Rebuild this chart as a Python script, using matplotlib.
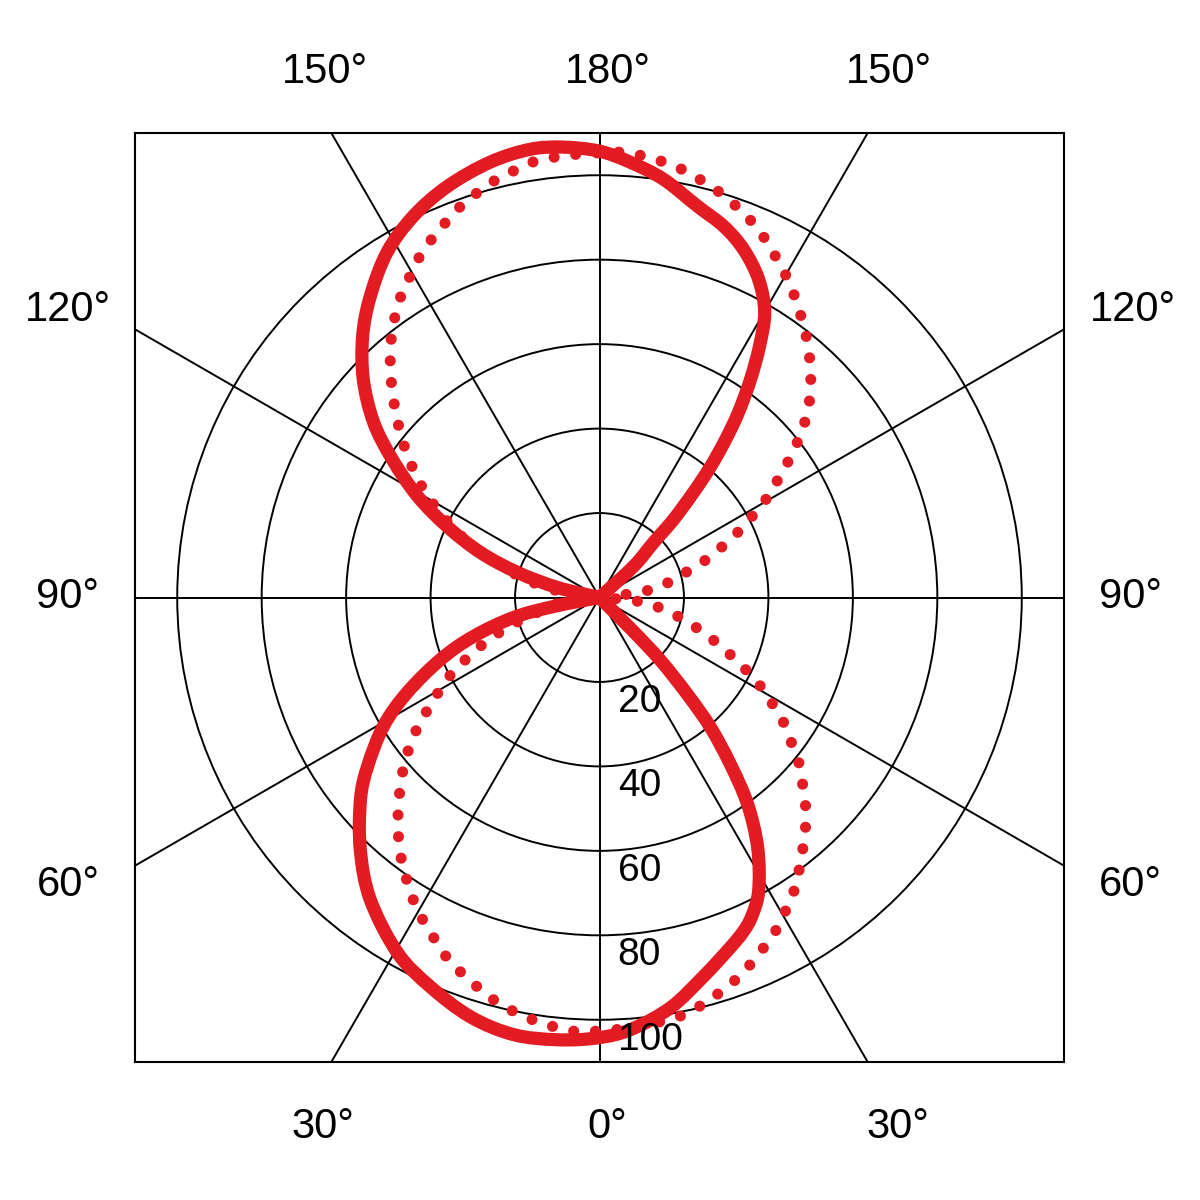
import numpy as np
import matplotlib
matplotlib.use('Agg')
import matplotlib.pyplot as plt
from matplotlib.patches import Circle, PathPatch
from matplotlib.path import Path

plt.rcParams['font.family'] = ['Liberation Sans', 'DejaVu Sans']

# ── DATA ─────────────────────────────────────────────────────────────────
# angle in degrees: 0 = bottom, 90 = right, 180 = top, 270 = left
# solid curve, lower lobe
LOW_ANG = [-84, -78.9, -76.9, -72.8, -68.7, -63.7, -59.2, -53.9, -49.8,
           -43.5, -37.2, -29.6, -23.5, -17.1, -11.1, -5.4, -0.3, 4.1, 9.8,
           15.3, 20.1, 23.1, 25.5, 28.5, 32.3, 35.6, 38.1, 40.5, 42.2, 44.1,
           45.0, 47]
LOW_VAL = [0, 11.1, 20.9, 31.3, 40.4, 50.8, 59.6, 68.0, 74.1,
           82.3, 89.8, 96.8, 100.5, 103.9, 105.5, 105.2, 104.3, 102.6, 98.6,
           93.1, 88.8, 86.3, 83.7, 79.0, 70.1, 60.3, 50.3, 40.5, 31.0, 20.8,
           11.1, 0]
# solid curve, upper lobe
UP_ANG = [128, 132.4, 135.5, 136.5, 138.2, 139.7, 141.4, 143.1, 145.3, 147.5,
          149.9, 153.4, 157.5, 161.5, 165.9, 171.3, 175.9, 180.0, 184.6, 188.8,
          194.1, 200.3, 206.0, 211.6, 217.3, 222.2, 227.3, 232.2, 236.3,
          240.9, 245.0, 249.3, 253.0, 256.6, 270]
UP_VAL = [0, 10.9, 18.3, 25.5, 33.4, 40.7, 47.9, 54.8, 62.8, 70.5,
          78.0, 84.2, 89.2, 92.7, 95.5, 100.2, 103.3, 105.7, 107.0, 107.4,
          106.3, 103.8, 100.5, 96.0, 89.6, 83.5, 76.1, 67.7, 59.0,
          49.3, 39.8, 30.1, 20.3, 10.2, 0]

# dotted curve
DOT_ANG = [-90, -81.3, -75.6, -72.8, -69.8, -66.9, -63.9, -61.3, -57.8, -55.3,
           -52.4, -49.6, -46.5, -43.6, -40.7, -37.9, -34.9, -31.9, -28.9,
           -26.0, -23.1, -20.2, -17.2, -14.3, -11.3, -8.3, -5.4, -2.5, 3,
           9.3, 12.3, 15.1, 18.2, 21.1, 24.1, 27.1, 29.8, 32.9, 35.9, 38.6,
           41.7, 44.6, 47.5, 50.5, 53.2, 56.4, 59.0, 61.9, 64.4, 67.4, 70.6,
           74.3, 78.5, 82.9, 85.6, 90, 96.6, 98.3, 102.3, 106.5, 109.6, 112.8,
           115.6, 118.5, 121.1, 123.9, 126.4, 128.8, 131.3, 134.2, 137.1,
           140.0, 143.0, 145.9, 148.8, 151.6, 154.4, 157.2, 160.0, 162.9,
           165.8, 168.6, 171.5, 174.3, 177.0, 182.8, 186.0, 188.8, 191.5,
           194.5, 197.3, 200.1, 202.9, 205.8, 208.6, 211.4, 214.4, 217.1,
           219.9, 222.6, 225.3, 228.0, 230.9, 233.8, 236.8, 239.7, 242.4,
           245.2, 248.0, 250.4, 253.7, 256.9, 259.6, 267.6, 270]
DOT_VAL = [0, 11.0, 16.1, 21.6, 26.8, 32.0, 37.2, 41.9, 46.8, 51.6,
           56.3, 60.7, 65.0, 69.1, 73.1, 76.8, 80.3, 83.8, 86.9,
           89.6, 92.5, 94.7, 96.8, 98.8, 100.3, 101.5, 102.4, 102.9, 102.3,
           101.3, 100.4, 98.9, 97.0, 95.0, 92.4, 90.0, 87.2, 84.1, 80.4, 77.0,
           73.3, 69.5, 65.2, 61.1, 56.5, 51.8, 47.0, 42.2, 37.3, 32.1, 27.1,
           21.9, 16.7, 11.5, 6.2, 0, 6.2, 11.5, 16.7, 21.7, 26.9, 31.9,
           36.8, 41.8, 46.8, 51.4, 56.3, 60.8, 65.3, 69.7, 73.4,
           77.0, 80.4, 83.6, 87.0, 89.7, 92.7, 95.4, 97.6, 99.7,
           101.4, 103.0, 104.2, 105.0, 105.6, 105.1, 104.8, 104.3, 103.0,
           101.6, 99.8, 97.9, 95.5, 93.1, 90.5, 87.4, 84.4, 80.9,
           77.2, 73.1, 69.0, 64.8, 60.5, 56.1, 51.5, 46.9, 42.0,
           37.3, 32.2, 26.9, 22.0, 16.8, 11.8, 5.7, 0]

RINGS = [20, 40, 60, 80, 100]
SPOKES = [0, 30, 60, 90, 120, 150]
# angle labels: (text, x, y) outside the frame
ANGLE_LABELS = [('180°', 1.9, 124.4), ('150°', -65.0, 124.4), ('150°', 68.5, 124.4),
                ('120°', -125.8, 68.0), ('120°', 126.3, 68.0),
                ('90°', -126.0, 0), ('90°', 125.8, 0),
                ('60°', -125.8, -68.0), ('60°', 125.8, -68.0),
                ('30°', -65.6, -125.3), ('0°', 1.9, -125.3), ('30°', 70.6, -125.3)]

RED = '#E31B23'


def to_xy(ang, val):
    t = np.deg2rad(np.asarray(ang, dtype=float))
    r = np.asarray(val, dtype=float)
    return np.column_stack([r * np.sin(t), -r * np.cos(t)])


def smooth_path(pts):
    # Catmull-Rom through the points, drawn as cubic Bezier segments
    n = len(pts)
    verts = [pts[0]]
    codes = [Path.MOVETO]
    for i in range(n - 1):
        p0 = pts[max(i - 1, 0)]
        p1, p2 = pts[i], pts[i + 1]
        p3 = pts[min(i + 2, n - 1)]
        verts += [p1 + (p2 - p0) / 6, p2 - (p3 - p1) / 6, p2]
        codes += [Path.CURVE4] * 3
    return Path(np.array(verts), codes)


# ── PLOT ─────────────────────────────────────────────────────────────────
fig = plt.figure(figsize=(12, 12), dpi=100)
ax = fig.add_axes([135 / 1200, 138 / 1200, 929 / 1200, 929 / 1200])
ax.set_xlim(-110, 110)
ax.set_ylim(-110, 110)
ax.set_aspect('equal')
ax.set_xticks([])
ax.set_yticks([])
for sp in ax.spines.values():
    sp.set_linewidth(1.5)
    sp.set_zorder(5)

for r in RINGS:
    ax.add_patch(Circle((0, 0), r, fill=False, edgecolor='black',
                        linewidth=1.4, zorder=1))
for a in SPOKES:
    t = np.deg2rad(a)
    ax.plot([-300 * np.sin(t), 300 * np.sin(t)],
            [300 * np.cos(t), -300 * np.cos(t)],
            color='black', linewidth=1.4, zorder=1)

ax.add_patch(PathPatch(smooth_path(to_xy(DOT_ANG, DOT_VAL)), fill=False,
                       edgecolor=RED, linewidth=8, linestyle=(0, (0.001, 1.95)),
                       capstyle='round', zorder=2))

for ang, val in [(LOW_ANG, LOW_VAL), (UP_ANG, UP_VAL)]:
    ax.add_patch(PathPatch(smooth_path(to_xy(ang, val)), fill=False,
                           edgecolor=RED, linewidth=9.5, capstyle='round',
                           joinstyle='round', zorder=3))

for r in RINGS:
    ax.text(4.3, -(r + 4.7), str(r), fontsize=28, ha='left', va='center',
            zorder=6)

for txt, x, y in ANGLE_LABELS:
    ax.text(x, y, txt, fontsize=30, ha='center', va='center', clip_on=False)

fig.savefig('out.png', dpi=100, facecolor='white')
